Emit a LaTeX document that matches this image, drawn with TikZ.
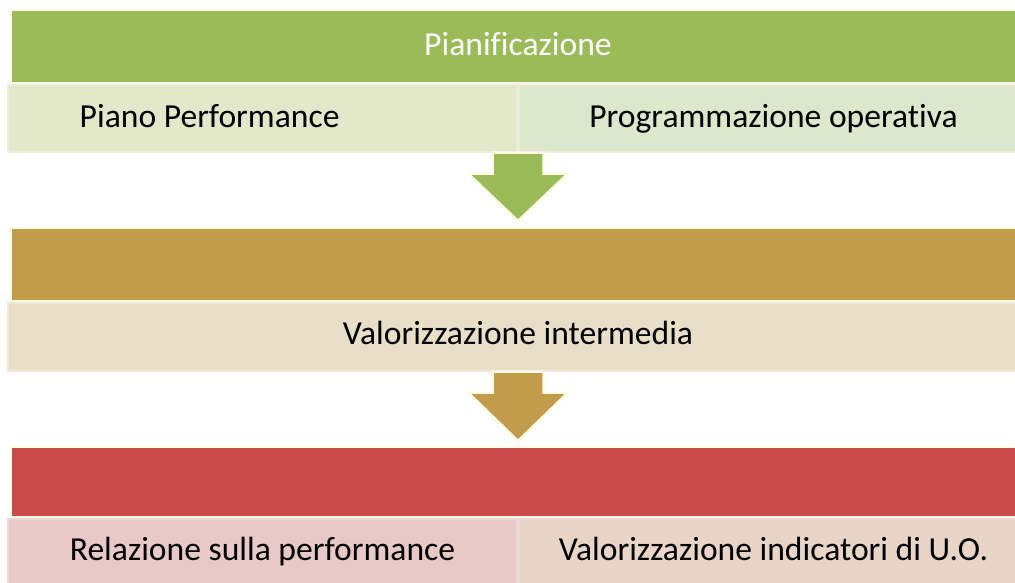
\documentclass[tikz,border=0pt]{standalone}
\usepackage{fontspec}
\setmainfont{Carlito}[Ligatures=NoCommon]
\usepackage{tikz}
\usetikzlibrary{positioning,calc}

\definecolor{plangreen}{HTML}{9BBB59}
\definecolor{planboxa}{HTML}{E2E8C9}
\definecolor{planboxb}{HTML}{DDE7CB}
\definecolor{planrim}{HTML}{EAEED9}
\definecolor{midbrown}{HTML}{C29B4B}
\definecolor{midbox}{HTML}{E7DFC8}
\definecolor{midrim}{HTML}{EEE9DA}
\definecolor{endred}{HTML}{C94B4B}
\definecolor{endboxa}{HTML}{E9C9C8}
\definecolor{endboxb}{HTML}{E9D4C8}
\definecolor{endrim}{HTML}{EED8D6}
\definecolor{halo}{HTML}{FFFCE6}

\begin{document}
\begin{tikzpicture}[x=1pt,y=-1pt,
	bar/.style={rectangle, inner sep=0pt, minimum width=1014, draw=halo, line width=2pt},
	subbox/.style={rectangle, inner sep=0pt, minimum width=509, minimum height=67, line width=2pt},
	lbl/.style={inner sep=0pt, anchor=base, font=\fontsize{33.6}{40}\selectfont},
	blockarrow/.style={draw=halo, line width=2.5pt, line join=miter}]
	\useasboundingbox (0,0) rectangle (1015,582);
	\clip (0,0) rectangle (1015,582);

	\begin{scope}
		\node[bar, fill=plangreen, minimum height=73] (plan) at (518,46.5) {};
		\node[subbox, fill=planboxa, draw=planrim] (pp) at (262.5,118) {};
		\node[subbox, fill=planboxb, draw=planrim] (po) at (773.5,118) {};
		\node[lbl, text=white] (tplan) at (518,55) {Pianificazione};
		\node[lbl, anchor=base west] (tpp) at (79.5,127) {Piano Performance};
		\node[lbl] (tpo) at (po.center |- 0,127) {Programmazione operativa};
	\end{scope}

	\begin{scope}
		\node[bar, fill=midbrown, minimum height=73] (mid) at (518,264.5) {};
		\node[subbox, fill=midbox, draw=midrim, minimum width=1020, minimum height=68] (vi) at (518,336.5) {};
		\node[lbl] (tvi) at (518,344) {Valorizzazione intermedia};
	\end{scope}

	\begin{scope}
		\node[bar, fill=endred, minimum height=70] (end) at (518,482) {};
		\node[subbox, fill=endboxa, draw=endrim] (rp) at (262.5,552) {};
		\node[subbox, fill=endboxb, draw=endrim] (ui) at (773.5,552) {};
		\node[lbl] (trp) at (rp.center |- 0,560) {Relazione sulla performance};
		\node[lbl] (tui) at (ui.center |- 0,560) {Valorizzazione indicatori di U.O.};
	\end{scope}

	\filldraw[blockarrow, fill=plangreen] ($(pp.south east)+(-25.5,0)$) -- ++(0,21) -- ++(-24.5,0)
		-- ($(mid.north)+(0,-6)$) -- ($(pp.south east)+(50,21)$) -- ++(-24.5,0) -- ++(0,-21) -- cycle;
	\filldraw[blockarrow, fill=midbrown] ($(vi.south)+(-25.5,0)$) -- ++(0,21) -- ++(-24.5,0)
		-- ($(end.north)+(0,-5)$) -- ($(vi.south)+(50,21)$) -- ++(-24.5,0) -- ++(0,-21) -- cycle;
\end{tikzpicture}
\end{document}
